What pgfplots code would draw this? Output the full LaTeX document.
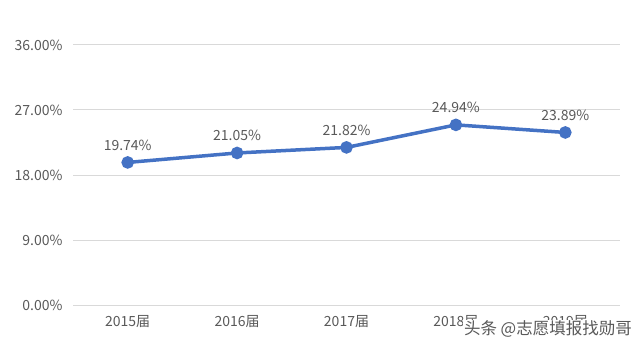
\documentclass[border=0pt]{standalone}
\usepackage{pgfplots}
\pgfplotsset{compat=1.18}
\usepackage{fontspec}
\setmainfont{Noto Sans CJK SC}
\definecolor{txtc}{HTML}{595959}
\definecolor{gridc}{HTML}{D9D9D9}
\definecolor{linec}{HTML}{4472C4}
\begin{document}
\begin{tikzpicture}[x=1bp,y=1bp]
\path[use as bounding box] (0,0) rectangle (640,353);
\begin{axis}[
  at={(73bp,48bp)}, anchor=south west,
  scale only axis, width=547bp, height=260bp,
  xmin=-0.5, xmax=4.5, ymin=0, ymax=36,
  axis line style={draw=none},
  xtick={0,1,2,3,4},
  xticklabels={2015届,2016届,2017届,2018届,2019届},
  ytick={0,9,18,27,36},
  yticklabels={0.00\%,9.00\%,18.00\%,27.00\%,36.00\%},
  xmajorgrids=false, ymajorgrids=true,
  grid style={draw=gridc, line width=1bp},
  major tick length=0pt,
  tick label style={font=\fontsize{14bp}{16bp}\selectfont, text=txtc},
  xticklabel style={yshift=-7bp},
  yticklabel style={xshift=-7bp},
  clip=false,
]
\addplot[linec, line width=3.5bp, mark=*, mark size=4.5bp, mark options={fill=linec, draw=linec},
  nodes near coords={\pgfmathprintnumber[fixed,fixed zerofill,precision=2,assume math mode=true]{\pgfplotspointmeta}\%},
  every node near coord/.append style={font=\fontsize{14bp}{16bp}\selectfont, text=txtc, anchor=south, yshift=7bp},
] coordinates {(0,19.74) (1,21.05) (2,21.82) (3,24.94) (4,23.89)};
\end{axis}
\node[anchor=east, fill=white, inner sep=1bp, text=black!65, font=\fontsize{16.5bp}{18bp}\selectfont] at (633,24) {头条 @志愿填报找勋哥};
\end{tikzpicture}
\end{document}
